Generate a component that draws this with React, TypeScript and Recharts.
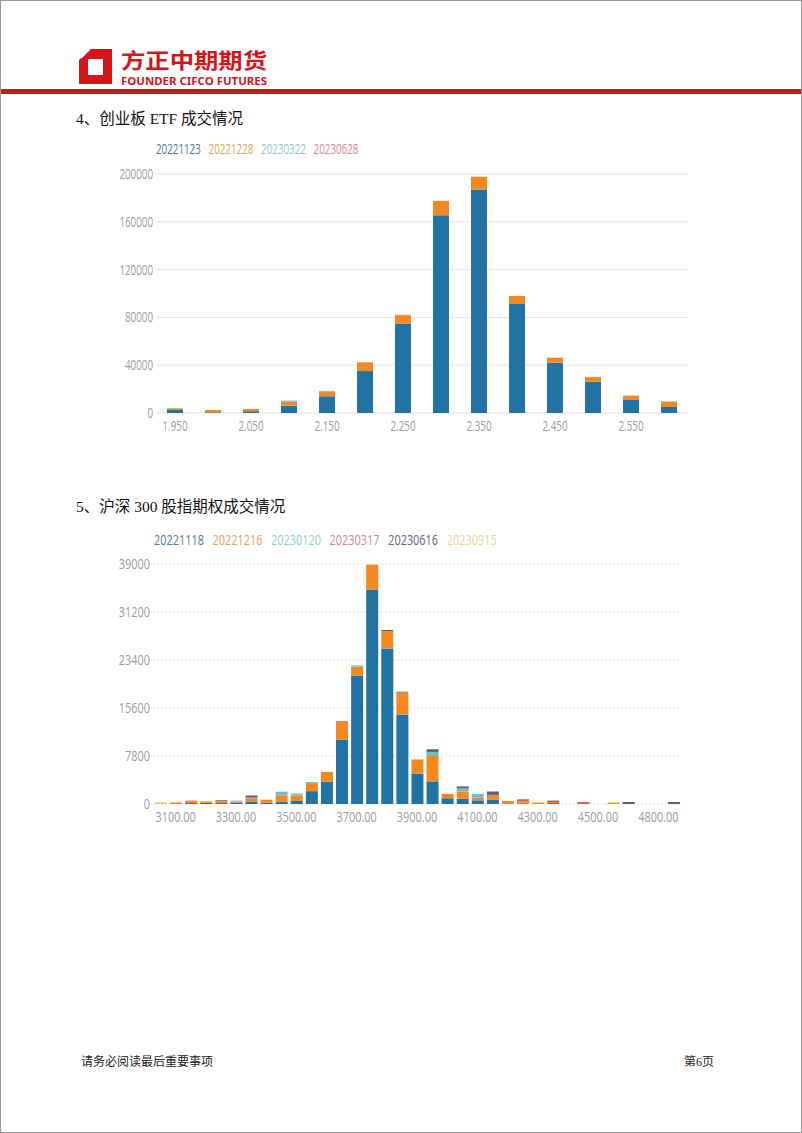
import React from "react";
import { BarChart, Bar, XAxis, YAxis, CartesianGrid } from "recharts";

// ---- 创业板ETF ----
const etfStrikes = ["1.950", "2.000", "2.050", "2.100", "2.150", "2.200", "2.250", "2.300", "2.350", "2.400", "2.450", "2.500", "2.550", "2.600"];
const etf20221123 = [2500, 600, 1500, 6200, 14000, 35100, 74900, 165500, 187100, 91200, 42100, 26100, 10900, 5000];
const etf20221228 = [1200, 1900, 1900, 3200, 3700, 7300, 7000, 12000, 10600, 6700, 4200, 3900, 3700, 4600];
const etf20230322 = [500, 0, 0, 1000, 800, 0, 300, 0, 0, 0, 0, 0, 0, 0];
const etf20230628 = [0, 0, 0, 0, 0, 0, 0, 0, 0, 0, 0, 0, 0, 0];
const etfTicks = [0, 40000, 80000, 120000, 160000, 200000];

// ---- 沪深300股指期权 ----
const idxStrikes = [
  "3050.00", "3100.00", "3150.00", "3200.00", "3250.00", "3300.00", "3350.00", "3400.00", "3450.00", "3500.00",
  "3550.00", "3600.00", "3650.00", "3700.00", "3750.00", "3800.00", "3850.00", "3900.00", "3950.00", "4000.00",
  "4050.00", "4100.00", "4150.00", "4200.00", "4250.00", "4300.00", "4350.00", "4400.00", "4450.00", "4500.00",
  "4550.00", "4600.00", "4700.00", "4800.00", "4900.00",
];
const idx20221118 = [0, 0, 150, 200, 150, 250, 400, 200, 400, 500, 2090, 3630, 10440, 20830, 34800, 25280, 14560, 4950, 3680, 940, 830, 600, 660, 0, 0, 0, 150, 0, 0, 0, 0, 0, 0, 0, 0];
const idx20221216 = [100, 250, 300, 150, 300, 150, 400, 500, 1000, 900, 1300, 1590, 2900, 1500, 4100, 2800, 3400, 2300, 4120, 710, 1200, 400, 820, 500, 400, 200, 200, 0, 0, 0, 150, 0, 0, 0, 0];
const idx20230120 = [0, 0, 0, 100, 0, 150, 100, 0, 500, 300, 180, 0, 0, 200, 0, 0, 0, 0, 660, 0, 500, 650, 0, 0, 0, 0, 0, 0, 0, 0, 0, 0, 0, 0, 0];
const idx20230317 = [0, 0, 100, 0, 0, 0, 200, 0, 0, 0, 0, 0, 130, 0, 0, 0, 0, 0, 0, 0, 0, 0, 0, 0, 370, 0, 0, 0, 330, 0, 0, 0, 0, 0, 0];
const idx20230616 = [0, 0, 0, 0, 150, 0, 270, 0, 80, 0, 0, 0, 0, 0, 0, 200, 200, 0, 440, 0, 330, 0, 550, 0, 0, 0, 200, 0, 0, 0, 0, 330, 0, 0, 330];
const idx20230915 = [200, 100, 0, 0, 0, 0, 0, 0, 0, 0, 0, 0, 0, 0, 0, 0, 200, 0, 0, 0, 0, 0, 0, 0, 0, 130, 0, 0, 0, 0, 180, 0, 0, 0, 0];
const idxTicks = [0, 7800, 15600, 23400, 31200, 39000];

const etfSeries = [
  { name: "20221123", values: etf20221123, fill: "#2272a3", label: "#4f7390" },
  { name: "20221228", values: etf20221228, fill: "#f5891f", label: "#e3a461" },
  { name: "20230322", values: etf20230322, fill: "#6cc0c8", label: "#8ec8cc" },
  { name: "20230628", values: etf20230628, fill: "#d85c5c", label: "#d8888e" },
];

const idxSeries = [
  { name: "20221118", values: idx20221118, fill: "#2272a3", label: "#557a95" },
  { name: "20221216", values: idx20221216, fill: "#f5891f", label: "#e3a25c" },
  { name: "20230120", values: idx20230120, fill: "#6cc0c8", label: "#93cbd0" },
  { name: "20230317", values: idx20230317, fill: "#d85c5c", label: "#d8868c" },
  { name: "20230616", values: idx20230616, fill: "#5a5f86", label: "#5f6585" },
  { name: "20230915", values: idx20230915, fill: "#f2d27e", label: "#e8d49c" },
];

const etfData = etfStrikes.map((strike, i) => {
  const row: Record<string, string | number> = { strike };
  etfSeries.forEach((s) => (row[s.name] = s.values[i]));
  return row;
});

const idxData = idxStrikes.map((strike, i) => {
  const row: Record<string, string | number> = { strike };
  idxSeries.forEach((s) => (row[s.name] = s.values[i]));
  return row;
});

const axisFont = "'Open Sans', sans-serif";
const cjkSerif = "'Liberation Serif', 'Noto Sans CJK SC', serif";

function YTick({ x, y, payload, sx }: any) {
  return (
    <g transform={`translate(${x + 5},${y}) scale(${sx},1)`}>
      <text x={0} y={0} dy={5} textAnchor="end" fill="#9b9b9b" fontSize={14} fontFamily={axisFont}>
        {payload.value}
      </text>
    </g>
  );
}

function XTick({ x, y, payload, index, every, offset, sx }: any) {
  if (index % every !== offset) return <g />;
  return (
    <g transform={`translate(${x},${y}) scale(${sx},1)`}>
      <text x={0} y={0} dy={10} textAnchor="middle" fill="#9b9b9b" fontSize={14} fontFamily={axisFont}>
        {payload.value}
      </text>
    </g>
  );
}

function LegendRow({ items, top, left, sx }: { items: { name: string; label: string }[]; top: number; left: number; sx: number }) {
  return (
    <div
      style={{
        position: "absolute",
        top,
        left,
        whiteSpace: "nowrap",
        fontFamily: axisFont,
        fontSize: 14,
        lineHeight: "16px",
        transform: `scaleX(${sx})`,
        transformOrigin: "left center",
      }}
    >
      {items.map((s) => (
        <span key={s.name} style={{ color: s.label, marginRight: 11 }}>
          {s.name}
        </span>
      ))}
    </div>
  );
}

function Header() {
  return (
    <svg width={802} height={100} style={{ position: "absolute", top: 0, left: 0 }}>
      <polygon points="78,59 89,48 111,48 111,83 78,83" fill="#d7141a" />
      <polygon points="87,58 102,58 102,74 87,74" fill="#fff" />
      <line x1="80" y1="57" x2="89" y2="48" stroke="#fff" strokeWidth={1.5} />
      <text x={120} y={67} fill="#d7141a" fontSize={21} fontWeight={700} fontFamily="'Noto Sans CJK SC', sans-serif" textLength={146} lengthAdjust="spacingAndGlyphs">
        方正中期期货
      </text>
      <text x={120} y={84} fill="#d7141a" fontSize={10} fontWeight={700} fontFamily="'Noto Sans', sans-serif" textLength={146} lengthAdjust="spacingAndGlyphs">
        FOUNDER CIFCO FUTURES
      </text>
      <rect x={0} y={88} width={802} height={5} fill="#c8161d" />
    </svg>
  );
}

export default function App() {
  return (
    <div
      style={{
        position: "absolute",
        top: 0,
        left: 0,
        width: 802,
        height: 1133,
        boxSizing: "border-box",
        border: "1px solid #9a9a9a",
        background: "#fff",
        overflow: "hidden",
      }}
    >
      <Header />

      <div style={{ position: "absolute", top: 105, left: 75, fontFamily: cjkSerif, fontSize: 15.5, color: "#111" }}>
        4、创业板 ETF 成交情况
      </div>
      <LegendRow items={etfSeries} top={140} left={155} sx={0.7} />
      <div style={{ position: "absolute", top: 160, left: 0 }}>
        <BarChart width={802} height={290} data={etfData} margin={{ top: 13, right: 115, bottom: 8, left: 110 }} barSize={16}>
          <CartesianGrid vertical={false} stroke="#e4e4e4" />
          <XAxis
            dataKey="strike"
            axisLine={false}
            tickLine={false}
            height={30}
            interval={0}
            tick={(p: any) => <XTick {...p} every={2} offset={0} sx={0.7} />}
          />
          <YAxis
            width={45}
            domain={[0, 200000]}
            ticks={etfTicks}
            axisLine={false}
            tickLine={false}
            tick={(p: any) => <YTick {...p} sx={0.7} />}
          />
          {etfSeries.map((s) => (
            <Bar key={s.name} dataKey={s.name} stackId="a" fill={s.fill} isAnimationActive={false} />
          ))}
        </BarChart>
      </div>

      <div style={{ position: "absolute", top: 493, left: 75, fontFamily: cjkSerif, fontSize: 15.5, color: "#111" }}>
        5、沪深 300 股指期权成交情况
      </div>
      <LegendRow items={idxSeries} top={531} left={153} sx={0.78} />
      <div style={{ position: "absolute", top: 550, left: 0 }}>
        <BarChart width={802} height={290} data={idxData} margin={{ top: 13, right: 122, bottom: 7, left: 107 }} barSize={12}>
          <CartesianGrid vertical={false} stroke="#dedede" strokeDasharray="2 2" />
          <XAxis
            dataKey="strike"
            axisLine={false}
            tickLine={false}
            height={30}
            interval={0}
            tick={(p: any) => <XTick {...p} every={4} offset={1} sx={0.78} />}
          />
          <YAxis
            width={45}
            domain={[0, 39000]}
            ticks={idxTicks}
            axisLine={false}
            tickLine={false}
            tick={(p: any) => <YTick {...p} sx={0.78} />}
          />
          {idxSeries.map((s) => (
            <Bar key={s.name} dataKey={s.name} stackId="a" fill={s.fill} isAnimationActive={false} />
          ))}
        </BarChart>
      </div>

      <div style={{ position: "absolute", top: 1051, left: 80, fontFamily: cjkSerif, fontSize: 12, color: "#222" }}>
        请务必阅读最后重要事项
      </div>
      <div style={{ position: "absolute", top: 1051, left: 683, fontFamily: cjkSerif, fontSize: 12, color: "#222" }}>
        第6页
      </div>
    </div>
  );
}
